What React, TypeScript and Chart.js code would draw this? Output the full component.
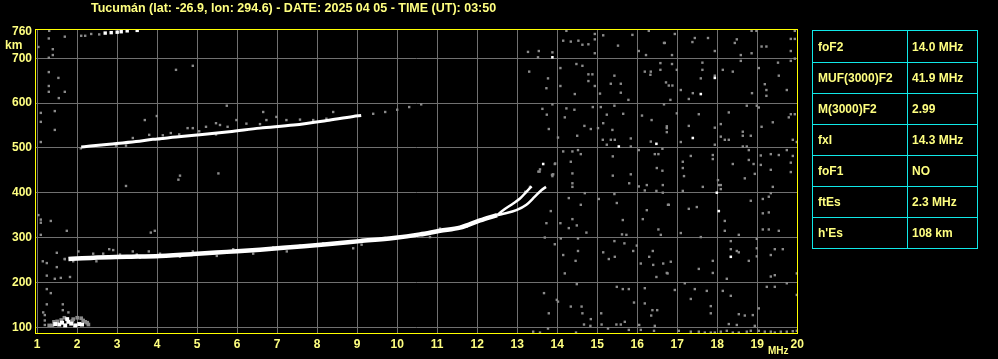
import React, { useEffect, useRef } from "react";
import { Chart, registerables } from "chart.js";

Chart.register(...registerables);

// ---------- text ----------
const TITLE = "Tucumán (lat: -26.9, lon: 294.6) - DATE: 2025 04 05 - TIME (UT): 03:50";
const X_UNIT = "MHz";
const Y_UNIT = "km";
const tableLabels = ["foF2", "MUF(3000)F2", "M(3000)F2", "fxI", "foF1", "ftEs", "h'Es"];
const tableValues = ["14.0 MHz", "41.9 MHz", "2.99", "14.3 MHz", "NO", "2.3 MHz", "108 km"];

// ---------- axes ----------
const xTicks = [1, 2, 3, 4, 5, 6, 7, 8, 9, 10, 11, 12, 13, 14, 15, 16, 17, 18, 19, 20];
const yTicks = [100, 200, 300, 400, 500, 600, 700, 760];

// ---------- F-layer main trace (frequency MHz, virtual height km) ----------
const trunkF = [1.78, 2.41, 3.24, 4.07, 4.9, 5.74, 6.57, 7.41, 8.24, 9.07, 9.91, 10.57, 11.07, 11.57, 12.07, 12.5];
const trunkH = [252, 255, 257, 259, 263, 268, 273, 279, 285, 292, 299, 307, 315, 322, 338, 350];
const oBranchF = [12.5, 12.65, 12.9, 13.07, 13.23, 13.36];
const oBranchH = [350, 361, 376, 387, 402, 414];
const xBranchF = [12.5, 12.65, 12.98, 13.23, 13.44, 13.61, 13.72];
const xBranchH = [350, 353, 361, 373, 391, 406, 413];

// ---------- second hop (~500 km) ----------
const hop2F = [2.1, 2.33, 2.8, 3.47, 3.89, 4.47, 5.13, 5.8, 6.57, 7.41, 8.24, 8.9, 9.1];
const hop2H = [502, 504, 508, 514, 519, 524, 530, 536, 544, 551, 561, 570, 572];

// ---------- third hop at top ----------
const hop3F = [2.7, 2.85, 3.0, 3.1, 3.25, 3.5];
const hop3H = [756, 757, 758, 759, 761, 762];

// ---------- sporadic E ----------
const esWhite: [number, number][] = [
  [1.45, 107], [1.55, 106], [1.62, 110], [1.7, 104], [1.78, 112], [1.85, 108],
  [1.95, 104], [2.05, 107], [2.12, 106], [1.75, 118],
];
const esGrey: [number, number][] = [
  [1.38, 104], [1.42, 112], [1.6, 116], [1.9, 118], [2.0, 121], [2.1, 120], [2.2, 112],
  [2.25, 110], [2.15, 115], [1.3, 104], [1.88, 114], [1.5, 113], [1.68, 121], [2.28, 106],
];

// ---------- weak echoes around traces ----------
const fringeGrey: [number, number][] = [
  [2.03, 269], [2.8, 274], [2.9, 272], [3.39, 269], [3.79, 269], [4.07, 264], [4.89, 269],
  [2.4, 264], [2.65, 264], [3.07, 262], [3.49, 262], [4.32, 259], [4.57, 259], [5.9, 274],
  [6.9, 278], [7.57, 282], [8.15, 287], [9.11, 284], [9.69, 299], [10.15, 303], [10.82, 301],
  [11.07, 320], [11.74, 324], [1.69, 252], [1.9, 247], [2.48, 247], [3.57, 255], [4.57, 257],
  [5.49, 259], [6.4, 264], [7.24, 269], [8.9, 276],
  [3.39, 522], [3.8, 529], [4.14, 528], [4.34, 533], [4.55, 530], [4.76, 544], [4.89, 544],
  [5.05, 537], [5.22, 547], [5.47, 555], [5.47, 530], [5.76, 547], [2.09, 499], [2.97, 505],
  [3.22, 505], [4.05, 519], [5.57, 551], [5.98, 562], [6.23, 554], [6.57, 553], [6.73, 562],
  [6.98, 569], [7.23, 562], [7.57, 563], [7.9, 562], [8.23, 565], [8.4, 580], [6.65, 580],
  [9.4, 576], [9.7, 580], [10.0, 585], [10.3, 591], [10.6, 597],
  [2.1, 750], [2.2, 750], [2.35, 754], [2.55, 753],
  [13.53, 447], [13.57, 452], [13.9, 441], [13.88, 437], [13.95, 465], [13.32, 413], [13.2, 402],
];

// ---------- isolated strong dots ----------
const dotsWhite: [number, number][] = [
  [13.88, 702], [13.65, 464], [15.54, 503], [16.48, 509], [17.94, 656], [17.59, 620],
  [17.39, 522], [17.99, 400], [18.04, 359], [18.34, 257],
];

// ---------- background noise ----------
const noiseLeft: [number, number][] = [
  [1.3, 761], [1.29, 744], [1.69, 748], [1.03, 725], [1.39, 720], [1.39, 707], [1.29, 701],
  [1.29, 669], [1.53, 656], [1.29, 638], [1.29, 625], [1.69, 625], [1.54, 611], [1.09, 578],
  [1.44, 582], [1.09, 558], [1.44, 540], [1.09, 513], [1.03, 350], [1.09, 340], [1.09, 333],
  [1.34, 337], [1.09, 306], [1.74, 315], [1.49, 266], [1.14, 247], [1.24, 243], [1.49, 234],
  [1.69, 252], [1.24, 215], [1.44, 208], [1.59, 210], [1.82, 212], [1.24, 185], [1.34, 176],
  [1.24, 151], [1.64, 151], [1.64, 138], [1.15, 133], [1.19, 127], [1.19, 115], [1.19, 105],
  [1.78, 133], [3.69, 562], [3.99, 571], [5.53, 443], [4.53, 429], [4.47, 674], [4.89, 683],
  [5.74, 594], [3.84, 311], [3.94, 315], [3.22, 415], [4.57, 438], [13.27, 714], [13.3, 670],
  [13.4, 90],
];
const noiseMid: [number, number][] = [
  [14.23, 761], [14.94, 754], [15.15, 751], [15.88, 752], [16.29, 761], [13.54, 716], [13.88, 713],
  [14.15, 739], [14.34, 737], [14.53, 739], [14.63, 730], [14.78, 731], [14.94, 742], [14.94, 711],
  [15.52, 728], [16.04, 716], [16.22, 707], [16.67, 734], [13.52, 702], [14.08, 678], [14.48, 687],
  [14.63, 683], [14.78, 664], [14.88, 664], [14.78, 649], [14.94, 638], [15.07, 621], [15.43, 661],
  [15.34, 643], [15.59, 643], [15.59, 623], [15.78, 607], [16.19, 670], [16.34, 670], [16.33, 663],
  [16.58, 689], [16.58, 674], [16.72, 646], [13.77, 655], [13.73, 633], [14.08, 638], [14.44, 620],
  [13.63, 587], [13.74, 574], [13.88, 597], [14.19, 568], [14.23, 588], [14.43, 585], [14.89, 591],
  [15.09, 591], [15.43, 594], [15.24, 574], [15.65, 576], [16.12, 572], [16.36, 562], [16.67, 597],
  [16.74, 544], [13.79, 542], [14.02, 523], [14.5, 527], [14.68, 549], [14.84, 542], [15.02, 544],
  [15.15, 555], [15.14, 518], [15.24, 507], [15.34, 518], [15.44, 518], [15.38, 540], [15.84, 521],
  [15.84, 503], [16.04, 495], [16.34, 514], [16.53, 486], [16.44, 486], [16.63, 498], [16.49, 455],
  [16.63, 449], [13.56, 447], [13.87, 440], [13.94, 464], [14.15, 492], [14.38, 492], [14.52, 495],
  [14.59, 486], [14.34, 469], [14.38, 443], [14.38, 421], [14.38, 413], [15.39, 481], [15.39, 438],
  [15.84, 441], [15.8, 421], [16.04, 414], [16.19, 405], [16.24, 417], [16.48, 404], [16.64, 400],
  [16.64, 417], [14.69, 399], [15.04, 386], [15.43, 397], [15.49, 377], [14.29, 388], [14.59, 373],
  [13.84, 359], [13.73, 332], [14.08, 332], [14.29, 321], [14.38, 341], [14.49, 327], [14.73, 311],
  [15.64, 339], [15.62, 307], [15.73, 306], [16.14, 341], [16.24, 361], [16.53, 318], [16.59, 306],
  [16.77, 373], [13.69, 300], [13.94, 285], [14.09, 298], [14.52, 298], [15.15, 267], [15.43, 292],
  [15.68, 287], [15.44, 257], [15.29, 252], [15.9, 270], [15.99, 282], [16.09, 242], [16.39, 270],
  [16.3, 257], [16.4, 239], [16.65, 242], [16.48, 212], [16.76, 220], [14.15, 261], [14.46, 248],
  [14.19, 220], [14.52, 270], [13.67, 176], [13.79, 131], [14.02, 157], [14.34, 146], [14.49, 196],
  [14.61, 146], [14.63, 131], [14.84, 118], [15.1, 131], [15.49, 190], [15.64, 185], [15.79, 185],
  [15.92, 155], [16.19, 153], [16.38, 138], [16.5, 138], [16.35, 126], [16.19, 187], [15.69, 112],
  [15.48, 106], [15.59, 106], [15.11, 106], [14.83, 103], [14.67, 106], [14.47, 88], [13.77, 97],
  [13.57, 88], [16.05, 105], [16.09, 94], [16.42, 92], [16.44, 103], [15.79, 94], [15.27, 97],
  [13.99, 161],
];
const noiseRight: [number, number][] = [
  [16.94, 754], [17.38, 736], [17.44, 745], [17.77, 745], [17.94, 716], [18.44, 734], [18.49, 742],
  [18.86, 761], [18.98, 761], [19.11, 726], [19.23, 726], [19.84, 743], [19.94, 743], [19.84, 716],
  [19.94, 761], [16.69, 734], [16.87, 707], [16.87, 687], [16.99, 674], [16.79, 639], [16.88, 639],
  [17.09, 629], [16.83, 607], [17.29, 609], [17.39, 622], [17.59, 655], [17.63, 690], [17.63, 674],
  [17.94, 661], [18.14, 674], [18.39, 670], [18.59, 694], [18.59, 707], [18.86, 711], [18.87, 622],
  [19.04, 678], [19.19, 642], [19.23, 629], [19.23, 616], [19.52, 690], [19.54, 661], [19.74, 629],
  [19.84, 694], [19.94, 699], [16.74, 548], [16.74, 535], [16.99, 577], [17.09, 513], [17.29, 549],
  [17.54, 575], [17.94, 545], [18.09, 553], [18.09, 525], [18.19, 518], [18.29, 579], [18.29, 518],
  [18.64, 536], [18.64, 527], [18.74, 594], [18.84, 527], [18.99, 594], [19.04, 590], [19.11, 547],
  [19.39, 557], [19.79, 568], [19.84, 575], [19.94, 575], [19.89, 518], [19.99, 513], [17.14, 469],
  [17.14, 455], [17.17, 437], [17.34, 482], [17.94, 507], [17.89, 484], [17.89, 475], [18.39, 464],
  [18.64, 503], [18.74, 503], [18.79, 495], [18.79, 473], [18.91, 464], [18.94, 442], [19.09, 483],
  [19.09, 462], [19.34, 451], [19.34, 486], [19.54, 484], [19.84, 467], [19.89, 482], [19.84, 446],
  [19.74, 495], [18.69, 432], [16.79, 373], [17.14, 404], [17.29, 364], [17.49, 368], [17.64, 413],
  [18.02, 428], [18.04, 417], [18.09, 408], [18.09, 417], [18.84, 382], [19.14, 386], [19.14, 354],
  [19.29, 391], [19.29, 356], [19.34, 399], [19.39, 413], [19.54, 315], [19.14, 318], [19.29, 318],
  [17.09, 310], [17.59, 301], [18.19, 337], [18.19, 315], [18.54, 306], [16.84, 246], [16.74, 221],
  [17.19, 198], [17.54, 230], [17.89, 248], [17.89, 221], [18.24, 208], [18.34, 292], [18.34, 274],
  [18.49, 270], [18.54, 267], [18.79, 248], [18.99, 297], [18.99, 276], [18.99, 258], [19.34, 261],
  [19.44, 274], [19.64, 274], [19.44, 216], [19.34, 213], [19.74, 198], [19.99, 220], [16.94, 183],
  [17.34, 163], [17.44, 185], [17.74, 181], [17.84, 147], [17.84, 131], [18.14, 181], [18.34, 170],
  [18.29, 107], [18.49, 105], [18.54, 129], [18.69, 126], [18.89, 127], [19.04, 142], [19.24, 190],
  [19.44, 190], [18.94, 103], [19.99, 172], [17.04, 92], [17.34, 90], [17.54, 90], [17.69, 88],
  [17.84, 88], [17.94, 88], [18.09, 90], [18.24, 92], [18.39, 88], [18.54, 88], [18.74, 90],
  [18.84, 92], [19.04, 92], [19.19, 90], [19.34, 90], [19.44, 88], [19.59, 90], [19.74, 90],
  [19.89, 91], [19.99, 92],
];

const FONT = '"Liberation Sans", Arial, sans-serif';
const TEXT_YELLOW = "#FFFF80";
const FRAME_YELLOW = "#FFFF00";
const GRID = "#707070";
const GREY = "#8A8A8A";
const CYAN = "#10E8E8";

const toXY = (fs: number[], hs: number[]) => fs.map((f, i) => ({ x: f, y: hs[i] }));
const pairs = (p: [number, number][]) => p.map(([x, y]) => ({ x, y }));

const framePlugin = {
  id: "frame",
  afterDatasetsDraw(chart: any) {
    const { ctx, chartArea: a } = chart;
    ctx.save();
    ctx.strokeStyle = FRAME_YELLOW;
    ctx.lineWidth = 1;
    ctx.strokeRect(a.left + 0.5, a.top + 0.5, a.right - a.left - 1, a.bottom - a.top - 1);
    ctx.restore();
  },
};

export default function App() {
  const canvasRef = useRef<HTMLCanvasElement | null>(null);

  useEffect(() => {
    document.body.style.margin = "0";
    document.body.style.background = "#000";
    document.body.style.overflow = "hidden";
    const canvas = canvasRef.current;
    if (!canvas) return;

    const lineDs = (data: any[], width: number) => ({
      data,
      showLine: true,
      borderColor: "#FFFFFF",
      borderWidth: width,
      pointRadius: 0,
      cubicInterpolationMode: "monotone",
      fill: false,
    });
    const pointDs = (data: any[], color: string, r: number) => ({
      data,
      showLine: false,
      pointStyle: "rect",
      pointRadius: r,
      pointBorderWidth: 0,
      pointBackgroundColor: color,
      pointBorderColor: color,
      pointHoverRadius: r,
    });

    const chart = new Chart(canvas, {
      type: "scatter",
      data: {
        datasets: [
          lineDs(toXY(trunkF, trunkH), 4.5),
          lineDs(toXY(oBranchF, oBranchH), 2.5),
          lineDs(toXY(xBranchF, xBranchH), 2.5),
          lineDs(toXY(hop2F, hop2H), 3),
          pointDs(toXY(hop3F, hop3H), "#FFFFFF", 2.4),
          pointDs(pairs(esWhite), "#FFFFFF", 2.8),
          pointDs(pairs(dotsWhite), "#FFFFFF", 1.8),
          pointDs(pairs(esGrey), GREY, 2.6),
          pointDs(pairs(fringeGrey), GREY, 1.7),
          pointDs(pairs(noiseLeft), GREY, 1.7),
          pointDs(pairs(noiseMid), GREY, 1.7),
          pointDs(pairs(noiseRight), GREY, 1.7),
        ] as any,
      },
      options: {
        animation: false,
        responsive: false,
        devicePixelRatio: 1,
        layout: { padding: { top: 29, right: 200, left: 0, bottom: 0 } },
        plugins: { legend: { display: false }, tooltip: { enabled: false }, title: { display: false } },
        events: [],
        scales: {
          x: {
            type: "linear",
            min: 0.945,
            max: 20.02,
            afterBuildTicks: (axis: any) => {
              axis.ticks = xTicks.map((v) => ({ value: v }));
            },
            afterFit: (s: any) => {
              s.height = 25;
            },
            grid: { color: GRID, lineWidth: 1, drawTicks: false },
            border: { display: false },
            ticks: {
              color: TEXT_YELLOW,
              font: { family: FONT, size: 12, weight: "bold" },
              padding: 3,
              autoSkip: false,
              maxRotation: 0,
              callback: (v: any) => String(v),
            },
          },
          y: {
            type: "linear",
            min: 84.83,
            max: 765.1,
            afterBuildTicks: (axis: any) => {
              axis.ticks = yTicks.map((v) => ({ value: v }));
            },
            afterFit: (s: any) => {
              s.width = 35;
            },
            grid: {
              color: (c: any) => (c.tick && c.tick.value === 760 ? "rgba(0,0,0,0)" : GRID),
              lineWidth: 1,
              drawTicks: false,
            },
            border: { display: false },
            ticks: {
              color: TEXT_YELLOW,
              font: { family: FONT, size: 12, weight: "bold" },
              padding: 3,
              autoSkip: false,
              callback: (v: any) => String(v),
            },
          },
        },
      } as any,
      plugins: [framePlugin as any],
    });
    return () => chart.destroy();
  }, []);

  const rowHeights = [31, 30, 30, 30, 30, 30, 30];
  const textStyle: React.CSSProperties = {
    fontFamily: FONT,
    fontWeight: "bold",
    fontSize: 12,
    color: TEXT_YELLOW,
    whiteSpace: "nowrap",
  };

  return (
    <div style={{ position: "absolute", left: 0, top: 0, width: 998, height: 359, background: "#000", overflow: "hidden" }}>
      <canvas ref={canvasRef} width={998} height={359} style={{ position: "absolute", left: 0, top: 0, width: 998, height: 359 }} />
      <div style={{ ...textStyle, position: "absolute", left: 91, top: 1, fontSize: 12.5, lineHeight: "14px" }}>{TITLE}</div>
      <div style={{ ...textStyle, position: "absolute", left: 5, top: 38, lineHeight: "14px" }}>{Y_UNIT}</div>
      <div style={{ ...textStyle, position: "absolute", left: 768, top: 345, fontSize: 10, lineHeight: "12px" }}>{X_UNIT}</div>
      <div
        style={{
          position: "absolute",
          left: 812,
          top: 30,
          width: 166,
          boxSizing: "border-box",
          border: `1px solid ${CYAN}`,
        }}
      >
        {tableLabels.map((label, i) => (
          <div
            key={label}
            style={{
              display: "flex",
              height: rowHeights[i] + (i > 0 ? 1 : 0),
              boxSizing: "border-box",
              borderTop: i > 0 ? `1px solid ${CYAN}` : "none",
            }}
          >
            <div
              style={{
                ...textStyle,
                width: 95,
                boxSizing: "border-box",
                borderRight: `1px solid ${CYAN}`,
                paddingLeft: 5,
                display: "flex",
                alignItems: "center",
              }}
            >
              {label}
            </div>
            <div style={{ ...textStyle, paddingLeft: 4, display: "flex", alignItems: "center" }}>{tableValues[i]}</div>
          </div>
        ))}
      </div>
    </div>
  );
}
